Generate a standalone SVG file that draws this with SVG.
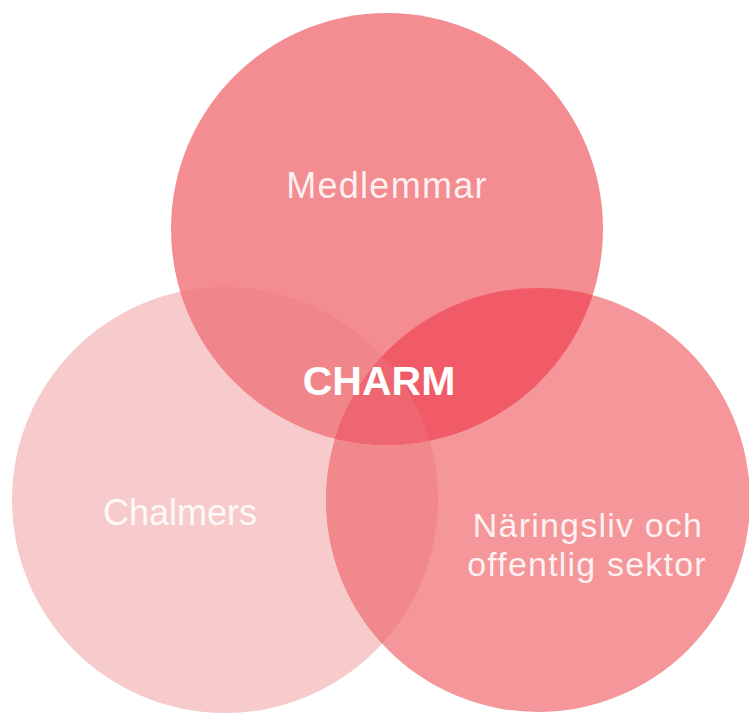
<svg xmlns="http://www.w3.org/2000/svg" width="749" height="714" viewBox="0 0 749 714">
  <style>
    .lbl { font-family: "Liberation Sans", Arial, sans-serif; fill: #ffffff; text-anchor: middle; }
    .soft { fill-opacity: 0.88; }
  </style>
  <defs>
    <clipPath id="clipTop"><circle cx="387" cy="229" r="216"/></clipPath>
    <clipPath id="clipRight"><circle cx="538" cy="500" r="212"/></clipPath>
    <clipPath id="clipLeft"><circle cx="225" cy="500" r="213"/></clipPath>
  </defs>
  <rect width="749" height="714" fill="#ffffff"/>

  <g id="node-chalmers">
    <circle cx="225" cy="500" r="213" fill="#F7CBCC"/>
  </g>
  <g id="node-naringsliv">
    <circle cx="538" cy="500" r="212" fill="#F5969A"/>
    <g clip-path="url(#clipLeft)">
      <circle cx="538" cy="500" r="212" fill="#F0888C"/>
    </g>
  </g>
  <g id="node-medlemmar">
    <circle cx="387" cy="229" r="216" fill="#F38D91"/>
    <g clip-path="url(#clipLeft)">
      <circle cx="387" cy="229" r="216" fill="#F0868A"/>
    </g>
    <g clip-path="url(#clipRight)">
      <circle cx="387" cy="229" r="216" fill="#F15B67"/>
      <g clip-path="url(#clipLeft)">
        <circle cx="387" cy="229" r="216" fill="#EE6670"/>
      </g>
    </g>
  </g>

  <g id="connectors"></g>

  <g id="labels">
    <text class="lbl soft" x="387" y="198" font-size="36" letter-spacing="1.3">Medlemmar</text>
    <text class="lbl soft" x="180" y="525" font-size="36" fill-opacity="0.8">Chalmers</text>
    <text class="lbl soft" x="588" y="537" font-size="34" letter-spacing="1.2">Näringsliv och</text>
    <text class="lbl soft" x="587" y="576" font-size="34" letter-spacing="1.2">offentlig sektor</text>
    <text class="lbl" x="379" y="395" font-size="41" font-weight="bold">CHARM</text>
  </g>
</svg>
